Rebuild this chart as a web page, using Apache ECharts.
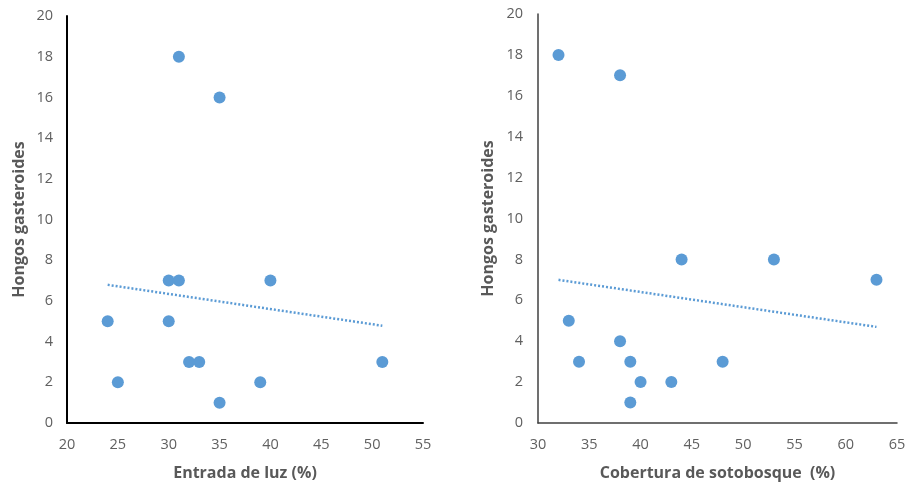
<!DOCTYPE html>
<html><head><meta charset="utf-8">
<script src="https://cdn.jsdelivr.net/npm/echarts@6/dist/echarts.min.js"></script>
<style>html,body{margin:0;padding:0;background:#fff}#c{width:910px;height:488px}</style>
</head><body><div id="c"></div>
<script>
// Left panel: Entrada de luz (%) vs Hongos gasteroides
const luzX = [31, 35, 30, 31, 40, 24, 30, 32, 33, 51, 25, 39, 35];
const luzY = [18, 16, 7, 7, 7, 5, 5, 3, 3, 3, 2, 2, 1];
const luzTrend = [[24, 6.79], [51, 4.78]];
// Right panel: Cobertura de sotobosque (%) vs Hongos gasteroides
const cobX = [32, 38, 44, 53, 63, 33, 38, 34, 39, 48, 40, 43, 39];
const cobY = [18, 17, 8, 8, 7, 5, 4, 3, 3, 3, 2, 2, 1];
const cobTrend = [[32, 7.0], [63, 4.7]];
const yTitle = 'Hongos gasteroides';
const xTitleLeft = 'Entrada de luz (%)';
const xTitleRight = 'Cobertura de sotobosque  (%)';

const pairs = (xs, ys) => xs.map((x, i) => [x, ys[i]]);
const font = 'Open Sans';
const lbl = {color: '#606060', fontSize: 14.5, fontFamily: font};
const nameStyle = {color: '#595959', fontSize: 16, fontWeight: 'bold', fontFamily: font};
const blue = '#5B9BD5';

const chart = echarts.init(document.getElementById('c'));
chart.setOption({
  animation: false,
  grid: [
    {left: 67, top: 16, width: 356, height: 407},
    {left: 538, top: 14, width: 359, height: 409}
  ],
  xAxis: [
    {gridIndex: 0, type: 'value', min: 20, max: 55, interval: 5,
     axisLine: {lineStyle: {color: '#000', width: 2}}, axisTick: {show: false},
     splitLine: {show: false}, axisLabel: Object.assign({margin: 14}, lbl),
     name: xTitleLeft, nameLocation: 'middle', nameGap: 42, nameTextStyle: nameStyle},
    {gridIndex: 1, type: 'value', min: 30, max: 65, interval: 5,
     axisLine: {lineStyle: {color: '#404040', width: 1.5}}, axisTick: {show: false},
     splitLine: {show: false}, axisLabel: Object.assign({margin: 14}, lbl),
     name: xTitleRight, nameLocation: 'middle', nameGap: 42, nameTextStyle: nameStyle}
  ],
  yAxis: [
    {gridIndex: 0, type: 'value', min: 0, max: 20, interval: 2,
     axisLine: {show: true, lineStyle: {color: '#000', width: 2}}, axisTick: {show: false},
     splitLine: {show: false}, axisLabel: Object.assign({margin: 14}, lbl),
     name: yTitle, nameLocation: 'middle', nameGap: 40, nameTextStyle: nameStyle},
    {gridIndex: 1, type: 'value', min: 0, max: 20, interval: 2,
     axisLine: {show: true, lineStyle: {color: '#404040', width: 1.5}}, axisTick: {show: false},
     splitLine: {show: false}, axisLabel: Object.assign({margin: 15}, lbl),
     name: yTitle, nameLocation: 'middle', nameGap: 42, nameTextStyle: nameStyle}
  ],
  series: [
    {type: 'line', xAxisIndex: 0, yAxisIndex: 0, data: luzTrend, symbol: 'none',
     lineStyle: {color: blue, width: 2.5, type: [2, 2]}, z: 1},
    {type: 'scatter', xAxisIndex: 0, yAxisIndex: 0, data: pairs(luzX, luzY),
     symbolSize: 12, itemStyle: {color: blue, opacity: 1}, z: 2},
    {type: 'line', xAxisIndex: 1, yAxisIndex: 1, data: cobTrend, symbol: 'none',
     lineStyle: {color: blue, width: 2.5, type: [2, 2]}, z: 1},
    {type: 'scatter', xAxisIndex: 1, yAxisIndex: 1, data: pairs(cobX, cobY),
     symbolSize: 12, itemStyle: {color: blue, opacity: 1}, z: 2}
  ]
});
</script></body></html>
